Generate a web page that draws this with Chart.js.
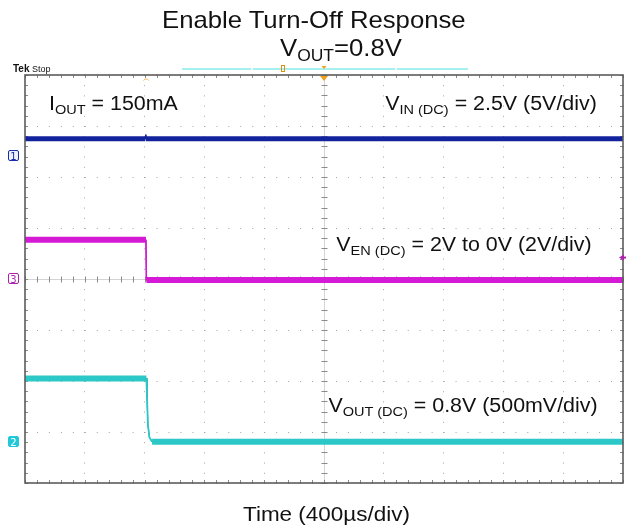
<!DOCTYPE html>
<html>
<head>
<meta charset="utf-8">
<script src="https://cdn.jsdelivr.net/npm/chart.js@4.4.1/dist/chart.umd.min.js"></script>
<style>
  body { margin: 0; background: #fff; }
  #wrap { position: relative; width: 631px; height: 527px; overflow: hidden; font-family: "Liberation Sans", Arial, sans-serif; color: #111; }
  #scope { position: absolute; left: 0; top: 0; }
  .lbl { position: absolute; white-space: nowrap; line-height: 1; transform: scaleX(1.07); transform-origin: 0 0; }
  .lbl.r { transform-origin: 100% 0; }
  .lbl sub { font-size: 0.68em; vertical-align: -0.3em; line-height: 0; }
  .ch { position: absolute; width: 11px; height: 11px; font: 10px "DejaVu Sans", sans-serif; line-height: 11px; text-align: center; border-radius: 2px; box-sizing: border-box; }
</style>
</head>
<body>
<div id="wrap">
  <canvas id="scope" width="631" height="527"></canvas>

  <div class="lbl" style="left:162px; top:8px; font-size:24px;">Enable Turn-Off Response</div>
  <div class="lbl" style="left:280px; top:36px; font-size:24px;">V<sub>OUT</sub>=0.8V</div>

  <div class="lbl" style="left:13px; top:64px; font-size:9px; transform:none;"><b style="font-size:10px">Tek</b> Stop</div>

  <div class="lbl" style="left:49px; top:93px; font-size:20px;">I<sub>OUT</sub> = 150mA</div>
  <div class="lbl r" style="right:34px; top:93px; font-size:20px;">V<sub>IN (DC)</sub> = 2.5V (5V/div)</div>
  <div class="lbl r" style="right:39px; top:234px; font-size:20px;">V<sub>EN (DC)</sub> = 2V to 0V (2V/div)</div>
  <div class="lbl r" style="right:33px; top:395px; font-size:20px;">V<sub>OUT (DC)</sub> = 0.8V (500mV/div)</div>

  <div class="lbl" style="left:243px; top:503px; font-size:21px;">Time (400µs/div)</div>
</div>

<script>
// horizontal: 10 div x 400us, vertical: 8 div (values in screen divisions)
const timeTicksUs = [0, 400, 800, 1200, 1600, 2000, 2400, 2800, 3200, 3600, 4000];
const divTicks = [-4, -3, -2, -1, 0, 1, 2, 3, 4];
const triggerUs = 2000;

// CH1 - V_IN
const vinTimeUs = [0, 805, 807, 809, 4000];
const vinDiv = [2.75, 2.75, 2.83, 2.75, 2.75];

// CH3 - V_EN
const venTimeUs = [0, 809, 812, 4000];
const venDiv = [0.77, 0.77, -0.02, -0.02];

// CH2 - V_OUT
const voutTimeUs = [0, 812, 816, 822, 832, 850, 4000];
const voutDiv = [-1.95, -1.95, -2.3, -2.85, -3.1, -3.19, -3.19];

// channel ground markers (div)
const chGround = [
  { name: "1", div: 2.42, color: "#1a2ca8", fill: "#eef0ff", text: "#1a2ca8" },
  { name: "3", div: 0, color: "#b020b0", fill: "#fff", text: "#b020b0" },
  { name: "2", div: -3.19, color: "#22c8d8", fill: "#22c8d8", text: "#fff" },
];

const pts = (xs, ys) => xs.map((t, i) => ({ x: t, y: ys[i] }));

// noise band is vertical only, so steep edges are drawn thin
function trace(xs, ys, color, width, edgeWidth) {
  return {
    data: pts(xs, ys),
    borderColor: color,
    borderWidth: width,
    pointRadius: 0,
    tension: 0,
    fill: false,
    segment: {
      borderWidth: (c) => (Math.abs(c.p1.parsed.x - c.p0.parsed.x) < 40 ? edgeWidth : undefined),
    },
  };
}

const graticule = {
  id: "graticule",
  beforeDatasetsDraw(chart) {
    const { ctx, chartArea: a, scales: { x, y } } = chart;
    const cx = Math.round(x.getPixelForValue(triggerUs)) + 0.5;
    const cy = Math.round(y.getPixelForValue(0)) + 0.5;
    ctx.save();
    ctx.lineWidth = 1;
    ctx.strokeStyle = "#d4d4d4";
    ctx.beginPath();
    ctx.moveTo(a.left, cy); ctx.lineTo(a.right, cy);
    ctx.moveTo(cx, a.top); ctx.lineTo(cx, a.bottom);
    ctx.stroke();

    // minor ticks, 5 per division
    ctx.strokeStyle = "#8a8a8a";
    ctx.beginPath();
    const xStep = (timeTicksUs[1] - timeTicksUs[0]) / 5;
    for (let t = timeTicksUs[0]; t <= timeTicksUs[timeTicksUs.length - 1]; t += xStep) {
      const px = Math.round(x.getPixelForValue(t)) + 0.5;
      ctx.moveTo(px, cy - 3); ctx.lineTo(px, cy + 3);
      ctx.moveTo(px, a.top); ctx.lineTo(px, a.top + 3);
      ctx.moveTo(px, a.bottom); ctx.lineTo(px, a.bottom - 3);
    }
    for (let k = 0; k <= 40; k++) {
      const v = divTicks[0] + k * 0.2;
      const py = Math.round(y.getPixelForValue(v)) + 0.5;
      ctx.moveTo(cx - 3, py); ctx.lineTo(cx + 3, py);
      ctx.moveTo(a.left, py); ctx.lineTo(a.left + 3, py);
      ctx.moveTo(a.right, py); ctx.lineTo(a.right - 3, py);
    }
    ctx.stroke();
    ctx.restore();
  },
  afterDatasetsDraw(chart) {
    const { ctx, chartArea: a, scales: { x, y } } = chart;
    ctx.save();
    ctx.strokeStyle = "#5c5c5c";
    ctx.lineWidth = 1.6;
    ctx.strokeRect(a.left, a.top, a.right - a.left, a.bottom - a.top);

    // record bar above the screen
    ctx.strokeStyle = "#a6f0f0";
    ctx.lineWidth = 2;
    ctx.beginPath();
    ctx.moveTo(182, a.top - 6); ctx.lineTo(251, a.top - 6);
    ctx.moveTo(253, a.top - 6); ctx.lineTo(395, a.top - 6);
    ctx.moveTo(397, a.top - 6); ctx.lineTo(468, a.top - 6);
    ctx.stroke();

    // trigger markers
    const tx = x.getPixelForValue(triggerUs);
    ctx.fillStyle = "#f0a020";
    ctx.beginPath();
    ctx.moveTo(tx - 4, a.top + 1); ctx.lineTo(tx + 4, a.top + 1); ctx.lineTo(tx, a.top + 6);
    ctx.fill();
    ctx.beginPath();
    ctx.moveTo(tx - 2.5, a.top - 9); ctx.lineTo(tx + 2.5, a.top - 9); ctx.lineTo(tx, a.top - 6);
    ctx.fill();
    ctx.strokeStyle = "#e08a10";
    ctx.lineWidth = 1;
    ctx.strokeRect(281.5, a.top - 9.5, 3, 6);
    ctx.strokeStyle = "#f4b860";
    ctx.beginPath();
    ctx.arc(x.getPixelForValue(810), a.top + 7, 3, Math.PI * 1.15, Math.PI * 1.85);
    ctx.stroke();

    // CH3 trigger level arrow on the right
    const ly = y.getPixelForValue(0.42);
    ctx.fillStyle = "#b020b0";
    ctx.beginPath();
    ctx.moveTo(a.right - 4, ly); ctx.lineTo(a.right + 1, ly - 3); ctx.lineTo(a.right + 1, ly + 3);
    ctx.fill();
    ctx.fillRect(a.right, ly - 1, 3, 2);
    ctx.restore();
  },
};

const chart = new Chart(document.getElementById("scope"), {
  type: "line",
  data: {
    datasets: [
      trace(vinTimeUs, vinDiv, "#13239e", 5, 1.2),
      trace(vinTimeUs, vinDiv, "#08126e", 1.5, 1),
      trace(venTimeUs, venDiv, "#d41ad4", 6, 1.5),
      trace(venTimeUs, venDiv, "#7a0c80", 2, 1),
      trace(voutTimeUs, voutDiv, "#2cc8c8", 6, 1.8),
      trace(voutTimeUs, voutDiv, "#0f7c84", 1.6, 1),
    ],
  },
  options: {
    responsive: false,
    animation: false,
    layout: { padding: { left: 25, right: 8, top: 75, bottom: 44 } },
    plugins: { legend: { display: false }, tooltip: { enabled: false } },
    scales: {
      x: {
        type: "linear",
        min: timeTicksUs[0],
        max: timeTicksUs[timeTicksUs.length - 1],
        afterBuildTicks: (s) => { s.ticks = timeTicksUs.map((v) => ({ value: v })); },
        ticks: { display: false },
        grid: { color: "#a4a4a4", lineWidth: 1, drawTicks: false },
        border: { display: false, dash: [1, 9.2] },
      },
      y: {
        type: "linear",
        min: divTicks[0],
        max: divTicks[divTicks.length - 1],
        afterBuildTicks: (s) => { s.ticks = divTicks.map((v) => ({ value: v })); },
        ticks: { display: false },
        grid: { color: "#a4a4a4", lineWidth: 1, drawTicks: false },
        border: { display: false, dash: [1, 10.96] },
      },
    },
  },
  plugins: [graticule],
});

// channel ground markers at the left edge of the screen
const wrap = document.getElementById("wrap");
chGround.forEach((c) => {
  const m = document.createElement("div");
  m.className = "ch";
  m.textContent = c.name;
  m.style.left = "8px";
  m.style.top = Math.round(chart.scales.y.getPixelForValue(c.div) - 6) + "px";
  m.style.border = "1px solid " + c.color;
  m.style.background = c.fill;
  m.style.color = c.text;
  wrap.appendChild(m);
});
</script>
</body>
</html>
